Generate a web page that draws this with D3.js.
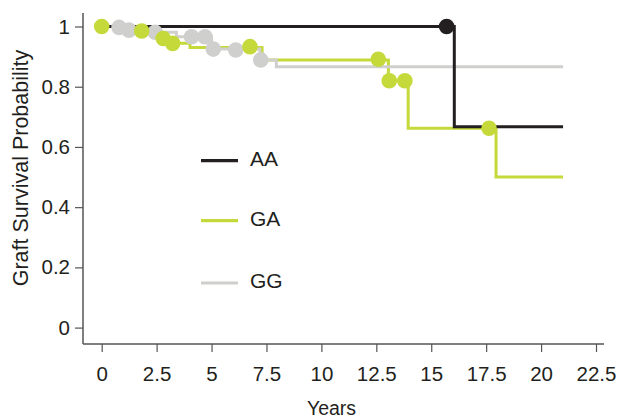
<!DOCTYPE html>
<html><head><meta charset="utf-8">
<script src="https://cdn.jsdelivr.net/npm/d3@7"></script>
<style>
html,body{margin:0;padding:0;background:#fff;}
svg text{font-family:"Liberation Sans",Arial,Helvetica,sans-serif;fill:#231f20;}
</style></head>
<body><svg id="chart" width="619" height="418"></svg>
<script>
// ---- data ----
const groups = ["AA", "GA", "GG"];
const colors = ["#231f20", "#c5d93a", "#cfd0ce"];
// step curves (time in years, survival probability)
const aaTime = [0, 16.05, 21];
const aaSurv = [1, 0.667, 0.667];
const gaTime = [0, 1.8, 2.7, 3.2, 4.02, 7.3, 13.05, 13.95, 17.95, 21];
const gaSurv = [1, 0.985, 0.96, 0.944, 0.93, 0.889, 0.82, 0.662, 0.5, 0.5];
const ggTime = [0, 0.8, 1.2, 2.4, 3.4, 5.0, 7.2, 7.95, 21];
const ggSurv = [1, 0.997, 0.988, 0.981, 0.966, 0.925, 0.889, 0.866, 0.866];
// censor marks
const aaMarkTime = [15.7];
const aaMarkSurv = [1];
const gaMarkTime = [0, 1.82, 2.8, 3.23, 6.75, 12.59, 13.09, 13.8, 17.63];
const gaMarkSurv = [1, 0.985, 0.96, 0.944, 0.933, 0.891, 0.82, 0.82, 0.662];
const ggMarkTime = [0.79, 1.24, 2.43, 4.09, 4.7, 5.08, 6.1, 7.24];
const ggMarkSurv = [0.997, 0.988, 0.981, 0.966, 0.966, 0.925, 0.922, 0.889];
const xTicks = [0, 2.5, 5, 7.5, 10, 12.5, 15, 17.5, 20, 22.5];
const xTickLabels = ["0", "2.5", "5", "7.5", "10", "12.5", "15", "17.5", "20", "22.5"];
const yTicks = [0, 0.2, 0.4, 0.6, 0.8, 1];
const yTickLabels = ["0", "0.2", "0.4", "0.6", "0.8", "1"];
const xTitle = "Years";
const yTitle = "Graft Survival Probability";

// ---- chart ----
const svg = d3.select("#chart");
const x = d3.scaleLinear().domain([0, 22.5]).range([101.7, 596]);
const y = d3.scaleLinear().domain([0, 1]).range([327.6, 26.5]);
const axisX = 83, axisY = 344;
const axisColor = "#555";
const fs = 20.5;

// axes
const gx = svg.append("g").attr("transform", `translate(0,${axisY})`)
  .call(d3.axisBottom(x).tickValues(xTicks).tickFormat((d,i)=>xTickLabels[i]).tickSize(8).tickPadding(14.5));
gx.select(".domain").remove();
gx.selectAll(".tick line").attr("stroke", axisColor).attr("stroke-width", 1.2);
gx.selectAll(".tick text").style("font-size", fs+"px").attr("fill", "#231f20");

const gy = svg.append("g").attr("transform", `translate(${axisX},0)`)
  .call(d3.axisLeft(y).tickValues(yTicks).tickFormat((d,i)=>yTickLabels[i]).tickSize(8).tickPadding(5));
gy.select(".domain").remove();
gy.selectAll(".tick line").attr("stroke", axisColor).attr("stroke-width", 1.2);
gy.selectAll(".tick text").style("font-size", fs+"px").attr("fill", "#231f20");

svg.append("line").attr("x1", axisX).attr("x2", 604).attr("y1", axisY).attr("y2", axisY)
  .attr("stroke", axisColor).attr("stroke-width", 1.5);
svg.append("line").attr("x1", axisX).attr("x2", axisX).attr("y1", 13).attr("y2", axisY)
  .attr("stroke", axisColor).attr("stroke-width", 1.5);

// titles
svg.append("text").attr("x", 331.5).attr("y", 415).attr("text-anchor", "middle")
  .style("font-size", "19.5px").text(xTitle);
svg.append("text").attr("transform", "translate(28,168) rotate(-90)").attr("text-anchor", "middle")
  .style("font-size", "21.5px").text(yTitle);

// curves
const line = d3.line().x(d=>x(d[0])).y(d=>y(d[1])).curve(d3.curveStepAfter);
const curves = {
  AA: d3.zip(aaTime, aaSurv),
  GA: d3.zip(gaTime, gaSurv),
  GG: d3.zip(ggTime, ggSurv)
};
const marks = {
  AA: d3.zip(aaMarkTime, aaMarkSurv),
  GA: d3.zip(gaMarkTime, gaMarkSurv),
  GG: d3.zip(ggMarkTime, ggMarkSurv)
};
const col = g => colors[groups.indexOf(g)];
["GA", "GG", "AA"].forEach(g => {
  svg.append("path").datum(curves[g]).attr("d", line).attr("fill", "none")
    .attr("stroke", col(g)).attr("stroke-width", 3);
});
["GG", "GA", "AA"].forEach(g => {
  svg.append("g").selectAll("circle").data(marks[g]).join("circle")
    .attr("cx", d=>x(d[0])).attr("cy", d=>y(d[1])).attr("r", 7.8).attr("fill", col(g));
});

// legend
const legY = [160.7, 220.7, 283];
groups.forEach((g, i) => {
  svg.append("line").attr("x1", 201).attr("x2", 238).attr("y1", legY[i]).attr("y2", legY[i])
    .attr("stroke", colors[i]).attr("stroke-width", 3.2);
  svg.append("text").attr("x", 250).attr("y", legY[i] + 5)
    .style("font-size", "21px").text(g);
});
</script></body></html>
